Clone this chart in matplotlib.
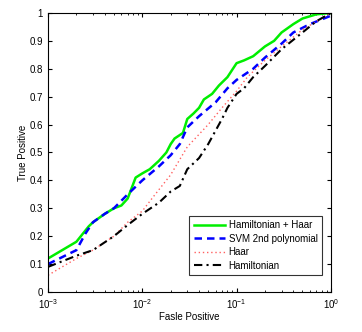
import matplotlib

matplotlib.use("Agg")
import matplotlib.pyplot as plt
import numpy as np

plt.rcParams["font.family"] = ["Liberation Sans", "DejaVu Sans"]

# ROC curves (false positive rate, true positive rate)
fp_ham_haar = [1e-3, 2e-3, 2.7e-3, 3e-3, 4e-3, 5e-3, 6e-3, 7e-3, 8.5e-3, 1e-2, 1.2e-2,
               1.5e-2, 1.8e-2, 2e-2, 2.2e-2, 2.7e-2, 3e-2, 3.5e-2, 4e-2, 4.5e-2, 5.5e-2,
               6.5e-2, 8e-2, 1e-1, 1.2e-1, 1.5e-1, 2e-1, 2.5e-1, 3e-1, 4e-1, 5e-1, 7e-1, 1.0]
tp_ham_haar = [0.12, 0.18, 0.235, 0.25, 0.28, 0.30, 0.31, 0.335, 0.41, 0.425, 0.44,
               0.47, 0.50, 0.53, 0.55, 0.57, 0.62, 0.64, 0.66, 0.69, 0.71,
               0.74, 0.77, 0.82, 0.83, 0.845, 0.88, 0.90, 0.93, 0.96, 0.98, 0.995, 1.0]

fp_svm = [1e-3, 2e-3, 2.5e-3, 3e-3, 4e-3, 5e-3, 7e-3, 1e-2, 1.5e-2, 2e-2, 2.5e-2, 3e-2,
          4e-2, 6e-2, 8e-2, 1e-1, 1.5e-1, 2e-1, 3e-1, 4e-1, 6e-1, 1.0]
tp_svm = [0.10, 0.15, 0.21, 0.25, 0.28, 0.30, 0.35, 0.40, 0.45, 0.49, 0.53, 0.59,
          0.63, 0.68, 0.73, 0.76, 0.80, 0.84, 0.89, 0.93, 0.96, 0.99]

fp_haar = [1e-3, 2e-3, 3e-3, 5e-3, 7e-3, 1e-2, 1.3e-2, 2e-2, 3e-2, 5e-2, 7e-2, 1e-1,
           1.3e-1, 2e-1, 3e-1, 5e-1, 1.0]
tp_haar = [0.06, 0.12, 0.15, 0.20, 0.25, 0.29, 0.34, 0.42, 0.52, 0.60, 0.66, 0.72,
           0.77, 0.83, 0.88, 0.94, 1.0]

fp_ham = [1e-3, 2e-3, 3e-3, 5e-3, 7e-3, 1e-2, 1.5e-2, 2e-2, 2.5e-2, 3e-2, 4e-2, 5e-2,
          7e-2, 8e-2, 1e-1, 1.2e-1, 1.5e-1, 2e-1, 3e-1, 5e-1, 7e-1, 1.0]
tp_ham = [0.09, 0.13, 0.15, 0.20, 0.24, 0.28, 0.32, 0.36, 0.38, 0.44, 0.48, 0.53,
          0.62, 0.66, 0.71, 0.73, 0.77, 0.81, 0.87, 0.93, 0.97, 1.0]

fig = plt.figure(figsize=(3.62, 3.32), dpi=100)
ax = fig.add_axes([0.1326, 0.1205, 0.7814, 0.8405])

ax.plot(fp_ham_haar, tp_ham_haar, color="#00ee00", lw=1.8, label="Hamiltonian + Haar")
ax.plot(fp_svm, tp_svm, color="#0000ff", lw=1.8, ls=(0, (3, 2)), label="SVM 2nd polynomial")
ax.plot(fp_haar, tp_haar, color="#ff6060", lw=1.0, ls=(0, (1, 2)), label="Haar")
ax.plot(fp_ham, tp_ham, color="black", lw=1.5, ls=(0, (4, 2, 1, 2)), label="Hamiltonian")

ax.set_xscale("log")
ax.set_xlim(1e-3, 1)
ax.set_ylim(0, 1)
ax.set_yticks(np.arange(0, 1.01, 0.1))
ax.set_yticklabels(["0", "0.1", "0.2", "0.3", "0.4", "0.5", "0.6", "0.7", "0.8", "0.9", "1"])
ax.tick_params(which="both", direction="in", top=True, right=True, labelsize=7)
ax.tick_params(which="major", length=3)
ax.tick_params(which="minor", length=1.5)
ax.set_xlabel("Fasle Positive", fontsize=7, labelpad=1)
ax.set_ylabel("True Positive", fontsize=7, labelpad=1)

leg = ax.legend(loc="lower right", bbox_to_anchor=(0.968, 0.061), borderaxespad=0,
                fontsize=7, frameon=True, fancybox=False, edgecolor="black",
                handlelength=3.2, borderpad=0.45, labelspacing=0.35, handletextpad=0.4)
leg.get_frame().set_linewidth(0.8)

fig.savefig("out.png", dpi=100)
plt.close(fig)
